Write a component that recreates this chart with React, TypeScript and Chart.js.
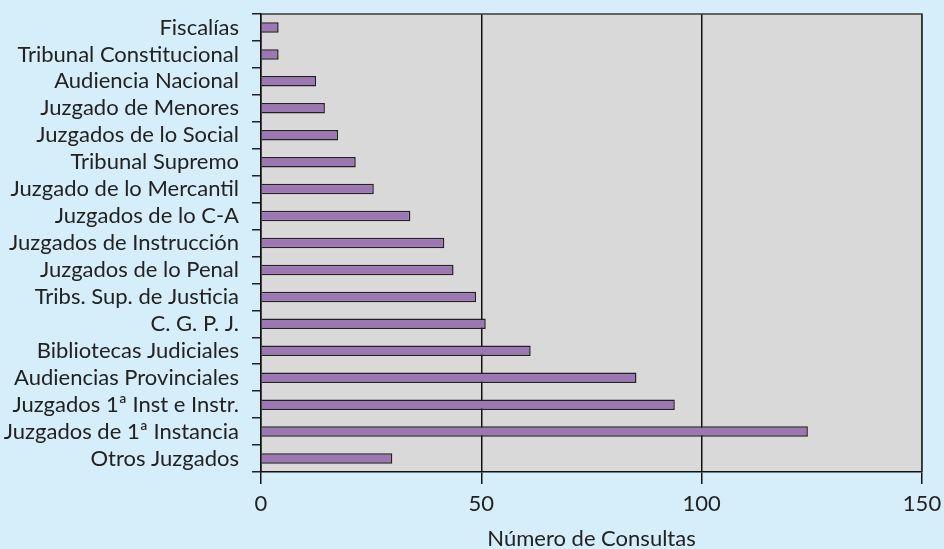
import React, { useEffect, useRef } from "react";
import { Chart, registerables } from "chart.js";

Chart.register(...registerables);

const categories = [
  "Fiscalías",
  "Tribunal Constitucional",
  "Audiencia Nacional",
  "Juzgado de Menores",
  "Juzgados de lo Social",
  "Tribunal Supremo",
  "Juzgado de lo Mercantil",
  "Juzgados de lo C-A",
  "Juzgados de Instrucción",
  "Juzgados de lo Penal",
  "Tribs. Sup. de Justicia",
  "C. G. P. J.",
  "Bibliotecas Judiciales",
  "Audiencias Provinciales",
  "Juzgados 1ª Inst e Instr.",
  "Juzgados de 1ª Instancia",
  "Otros Juzgados",
];

const consultas = [4, 4, 12.5, 14.5, 17.5, 21.5, 25.6, 33.9, 41.6, 43.7, 48.8, 51, 61.2, 85.2, 93.9, 124.1, 29.8];

const xTicks = [0, 50, 100, 150];
const xTitle = "Número de Consultas";

const FONT = "Lato";

const plotBg = {
  id: "plotBg",
  beforeDraw(chart: any) {
    const { ctx, chartArea: a } = chart;
    ctx.save();
    ctx.fillStyle = "#d9d9d9";
    ctx.fillRect(a.left, a.top, a.right - a.left, a.bottom - a.top);
    ctx.restore();
  },
  afterDatasetsDraw(chart: any) {
    const { ctx, chartArea: a } = chart;
    ctx.save();
    ctx.strokeStyle = "#3a3a3a";
    ctx.lineWidth = 1.5;
    ctx.beginPath();
    ctx.moveTo(a.left, a.top);
    ctx.lineTo(a.right, a.top);
    ctx.lineTo(a.right, a.bottom);
    ctx.stroke();
    ctx.restore();
  },
};

export default function App() {
  const ref = useRef<HTMLCanvasElement>(null);
  useEffect(() => {
    document.body.style.margin = "0";
    const chart = new Chart(ref.current!, {
      type: "bar",
      data: {
        labels: categories,
        datasets: [
          {
            data: consultas,
            backgroundColor: "#9d76b4",
            borderColor: "#222222",
            borderWidth: 1.5,
            barPercentage: 0.39,
            categoryPercentage: 1,
          },
        ],
      },
      plugins: [plotBg],
      options: {
        indexAxis: "y",
        animation: false,
        responsive: false,
        maintainAspectRatio: false,
        layout: { padding: { left: 0, top: 14, right: 22, bottom: 0 } },
        plugins: { legend: { display: false }, tooltip: { enabled: false } },
        scales: {
          x: {
            min: 0,
            max: 150,
            afterBuildTicks: (s: any) => {
              s.ticks = xTicks.map((v) => ({ value: v }));
            },
            afterFit: (s: any) => {
              s.height = 549 - 472;
              s.paddingLeft = 0;
              s.paddingRight = 0;
            },
            border: { display: true, color: "#111", width: 1.5 },
            grid: {
              color: "#111",
              lineWidth: 1.5,
              drawOnChartArea: true,
              drawTicks: true,
              tickLength: 12,
            },
            ticks: {
              color: "#222",
              font: { family: FONT, size: 22 },
              padding: 7,
            },
            title: {
              display: true,
              text: xTitle,
              color: "#222",
              font: { family: FONT, size: 22 },
              padding: { top: 4, bottom: -3 },
            },
          },
          y: {
            afterFit: (s: any) => {
              s.width = 261;
              s.paddingTop = 0;
              s.paddingBottom = 0;
            },
            border: { display: true, color: "#111", width: 1.5 },
            grid: {
              offset: true,
              color: "#222",
              lineWidth: 1.5,
              drawOnChartArea: false,
              drawTicks: true,
              tickLength: 9,
            },
            ticks: {
              color: "#222",
              font: { family: FONT, size: 22 },
              padding: 13,
              autoSkip: false,
            },
          },
        },
      },
    });
    return () => chart.destroy();
  }, []);
  return (
    <div style={{ position: "absolute", left: 0, top: 0, width: 944, height: 549, background: "#d5eefa" }}>
      <canvas ref={ref} width={944} height={549} style={{ width: 944, height: 549 }} />
    </div>
  );
}
